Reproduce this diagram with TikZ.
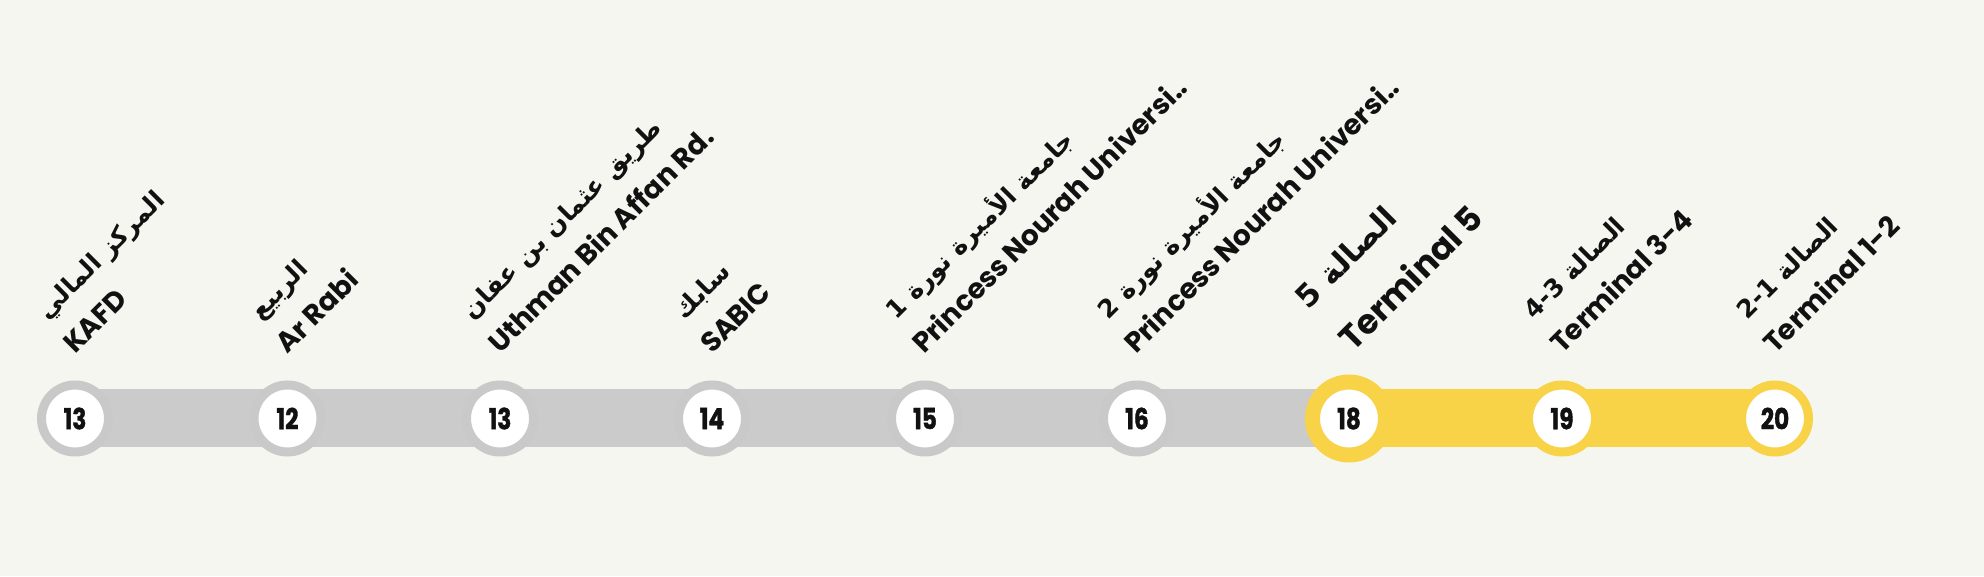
\documentclass[tikz,border=0pt]{standalone}
\usepackage{fontspec}
\usetikzlibrary{backgrounds}
\TeXXeTstate=1
\newfontfamily\arabicfont[Script=Arabic]{DejaVu Sans}
\newfontfamily\latinfont{Poppins}
\newfontfamily\numfont{Poppins}[FakeStretch=0.8,FakeBold=1.2]
\definecolor{bgcol}{HTML}{F5F6F0}
\definecolor{linegray}{HTML}{CBCBCB}
\definecolor{ringgray}{HTML}{C9C9C9}
\definecolor{lineyellow}{HTML}{F8D247}
\definecolor{ink}{HTML}{111111}
\tikzset{
  stn/.style={circle, fill=white, draw=ringgray, line width=9pt, minimum size=67pt, inner sep=0pt,
    font=\numfont\bfseries\fontsize{29}{29}\selectfont, text=ink},
  ystn/.style={stn, draw=lineyellow},
  bigstn/.style={stn, draw=lineyellow, line width=15pt, minimum size=73pt},
  bar/.style={line width=58pt, line cap=butt},
  lab/.style={rotate=45, anchor=base west, inner sep=0pt, text=ink,
    font=\latinfont\bfseries\fontsize{28}{28}\selectfont},
  arab/.style={lab, font=\arabicfont\bfseries\fontsize{25}{25}\selectfont},
  biglab/.style={lab, font=\latinfont\bfseries\fontsize{34}{34}\selectfont},
  bigarab/.style={lab, font=\arabicfont\bfseries\fontsize{31}{31}\selectfont}
}
% #1 name suffix, #2 x, #3 English, #4 Arabic line
\newcommand{\mystlabel}[4]{%
  \begin{scope}[shift={(#2,221)},rotate=45]
    \node[lab] (e#1) at (0,0) {#3};
    \node[arab] (a#1) at (5,44) {\hbox{#4}};
  \end{scope}}
\begin{document}
\begin{tikzpicture}[x=1pt,y=1pt]
\useasboundingbox (0,0) rectangle (1984,576);
% stations
\node[stn] (s1) at (75,157.5) {13};
\node[stn] (s2) at (287.5,157.5) {12};
\node[stn] (s3) at (500,157.5) {13};
\node[stn] (s4) at (712,157.5) {14};
\node[stn] (s5) at (925,157.5) {15};
\node[stn] (s6) at (1137,157.5) {16};
\node[bigstn] (s7) at (1349,157.5) {18};
\node[ystn] (s8) at (1562,157.5) {19};
\node[ystn] (s9) at (1775,157.5) {20};
\begin{scope}[on background layer]
  \fill[bgcol] (0,0) rectangle (1984,576);
  \draw[bar, linegray] (s1.center) -- (s7.center);
  \draw[bar, lineyellow] (s7.center) -- (s9.center);
\end{scope}
% labels
\mystlabel{1}{75}{KAFD}{\beginR المركز المالي\endR}
\mystlabel{2}{287.5}{Ar Rabi}{\beginR الربيع\endR}
\mystlabel{3}{500}{Uthman Bin Affan Rd.}{\beginR طريق عثمان بن عفان\endR}
\mystlabel{4}{712}{SABIC}{\beginR سابك\endR}
\mystlabel{5}{924}{Princess Nourah Universi..}{\beginR جامعة الأميرة نورة 1\endR}
\mystlabel{6}{1136}{Princess Nourah Universi..}{\beginR جامعة الأميرة نورة 2\endR}
\begin{scope}[shift={(1353,223)},rotate=45]
  \node[biglab] (e7) at (0,0) {Terminal 5};
  \node[bigarab] (a7) at (-1,61.5) {\hbox{\beginR الصالة 5\endR}};
\end{scope}
\mystlabel{8}{1562}{Terminal 3-4}{\beginR الصالة \beginL 4-3\endL\endR}
\mystlabel{9}{1775}{Terminal 1-2}{\beginR الصالة \beginL 2-1\endL\endR}
\end{tikzpicture}
\end{document}
